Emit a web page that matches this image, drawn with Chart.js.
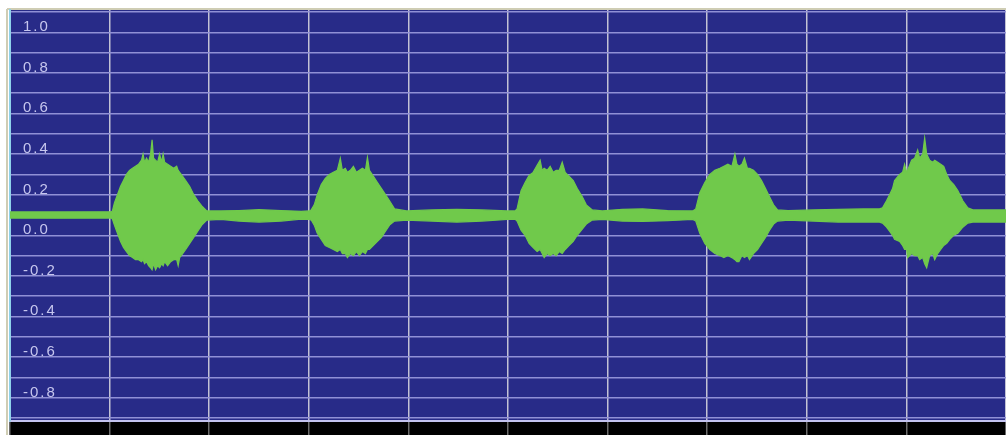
<!DOCTYPE html>
<html>
<head>
<meta charset="utf-8">
<script src="https://cdn.jsdelivr.net/npm/chart.js@4/dist/chart.umd.min.js"></script>
<style>
  html, body { margin: 0; padding: 0; background: #ffffff; }
  canvas { display: block; }
</style>
</head>
<body>
<canvas id="wave" width="1006" height="435"></canvas>
<script>
// Sample times (ms) of the waveform envelope
const timeMs = [
  0, 50, 101,
  102, 104, 107, 110, 113, 116, 119, 122, 125, 128, 131, 132.5, 134, 136, 138, 140, 141.5, 143, 145, 147, 149, 151, 152.5, 154, 157, 160, 163, 166, 167.5, 169, 172, 175, 179, 183, 187, 191, 196,
  210, 228, 248, 270, 290, 298,
  300, 303, 306, 310, 314, 318, 322, 326, 329, 331, 334, 336, 339, 342, 345, 348, 351, 354, 356, 358, 362, 366, 370, 374, 378, 383,
  395, 420, 445, 470, 495, 503,
  505, 509, 513, 517, 521, 525, 528, 530, 532, 535, 538, 541, 544, 547, 550, 553, 557, 561, 565, 570, 574, 580,
  590, 610, 630, 655, 680,
  683, 687, 692, 697, 702, 707, 711, 715, 719, 722, 724, 726, 729, 731.5, 734.5, 736.5, 740.5, 744.5, 748.5, 752.5, 756.5, 760.5, 764.5,
  775, 800, 825, 850, 866,
  869, 873, 876, 879, 881, 886, 889, 891, 893, 894, 898, 901, 904, 906, 909, 911, 913, 916, 919, 921, 924, 927, 930, 933, 936, 940, 944, 949, 954, 959,
  975, 992
];

// Positive peak amplitude at each sample time
const upperEnvelope = [
  0.015, 0.015, 0.016,
  0.02, 0.06, 0.10, 0.14, 0.17, 0.20, 0.22, 0.23, 0.24, 0.25, 0.27, 0.30, 0.26, 0.28, 0.26, 0.30, 0.37, 0.28, 0.27, 0.26, 0.30, 0.26, 0.30, 0.26, 0.25, 0.24, 0.23, 0.24, 0.22, 0.21, 0.19, 0.17, 0.14, 0.10, 0.07, 0.045, 0.02,
  0.02, 0.022, 0.026, 0.022, 0.018, 0.02,
  0.025, 0.05, 0.10, 0.15, 0.18, 0.20, 0.21, 0.22, 0.28, 0.22, 0.23, 0.21, 0.22, 0.24, 0.21, 0.22, 0.23, 0.22, 0.285, 0.22, 0.19, 0.16, 0.13, 0.10, 0.07, 0.03,
  0.02, 0.025, 0.028, 0.025, 0.02, 0.02,
  0.03, 0.12, 0.16, 0.195, 0.21, 0.245, 0.27, 0.22, 0.23, 0.22, 0.24, 0.21, 0.22, 0.22, 0.26, 0.21, 0.19, 0.17, 0.13, 0.09, 0.05, 0.025,
  0.02, 0.028, 0.03, 0.022, 0.02,
  0.03, 0.11, 0.16, 0.20, 0.22, 0.23, 0.24, 0.25, 0.24, 0.30, 0.25, 0.24, 0.25, 0.28, 0.23, 0.23, 0.22, 0.20, 0.17, 0.13, 0.09, 0.05, 0.025,
  0.022, 0.025, 0.028, 0.03, 0.03,
  0.035, 0.07, 0.10, 0.13, 0.17, 0.20, 0.21, 0.25, 0.21, 0.22, 0.27, 0.28, 0.32, 0.28, 0.30, 0.38, 0.30, 0.27, 0.26, 0.27, 0.26, 0.25, 0.24, 0.20, 0.17, 0.15, 0.12, 0.07, 0.035, 0.025,
  0.025, 0.025
];

// Negative peak amplitude at each sample time
const lowerEnvelope = [
  -0.015, -0.016, -0.015,
  -0.02, -0.05, -0.09, -0.13, -0.16, -0.18, -0.20, -0.21, -0.22, -0.22, -0.23, -0.22, -0.24, -0.23, -0.25, -0.26, -0.27, -0.24, -0.27, -0.25, -0.26, -0.24, -0.25, -0.23, -0.25, -0.23, -0.22, -0.22, -0.25, -0.21, -0.19, -0.17, -0.14, -0.11, -0.08, -0.05, -0.025,
  -0.022, -0.03, -0.035, -0.03, -0.02, -0.022,
  -0.025, -0.05, -0.09, -0.12, -0.15, -0.16, -0.17, -0.18, -0.17, -0.19, -0.19, -0.21, -0.19, -0.20, -0.18, -0.20, -0.18, -0.19, -0.17, -0.17, -0.15, -0.13, -0.11, -0.08, -0.05, -0.03,
  -0.025, -0.03, -0.035, -0.03, -0.022, -0.02,
  -0.03, -0.075, -0.10, -0.14, -0.16, -0.18, -0.17, -0.19, -0.21, -0.19, -0.20, -0.19, -0.20, -0.18, -0.19, -0.17, -0.15, -0.13, -0.10, -0.07, -0.045, -0.025,
  -0.022, -0.03, -0.032, -0.028, -0.022,
  -0.03, -0.09, -0.14, -0.17, -0.19, -0.20, -0.21, -0.20, -0.21, -0.22, -0.23, -0.23, -0.20, -0.21, -0.20, -0.22, -0.19, -0.17, -0.14, -0.11, -0.075, -0.045, -0.03,
  -0.025, -0.03, -0.035, -0.035, -0.035,
  -0.04, -0.06, -0.08, -0.10, -0.12, -0.13, -0.15, -0.17, -0.17, -0.21, -0.19, -0.20, -0.20, -0.22, -0.21, -0.24, -0.26, -0.20, -0.19, -0.22, -0.19, -0.17, -0.15, -0.14, -0.12, -0.10, -0.09, -0.06, -0.04, -0.035,
  -0.035, -0.035
];

// Amplitude labels printed along the left edge
const yTickLabels = ['1.0', '0.8', '0.6', '0.4', '0.2', '0.0', '-0.2', '-0.4', '-0.6', '-0.8'];

const WAVE_GREEN = '#70c94b';
const PLOT_BLUE = '#282b88';

// Plot background, frame edges and the dark strip under the time axis
const scopeFrame = {
  id: 'scopeFrame',
  beforeDraw(chart) {
    const { ctx, chartArea: a, width, height } = chart;
    ctx.save();
    ctx.fillStyle = PLOT_BLUE;
    ctx.fillRect(a.left, a.top, a.right - a.left, a.bottom - a.top);
    ctx.fillStyle = '#000000';
    ctx.fillRect(a.left, a.bottom, width - a.left, height - a.bottom);
    ctx.strokeStyle = '#cfcdb4';
    ctx.lineWidth = 2;
    ctx.beginPath();
    ctx.moveTo(a.left - 3, a.top - 1);
    ctx.lineTo(a.right, a.top - 1);
    ctx.moveTo(a.left - 3, a.top - 1);
    ctx.lineTo(a.left - 3, height);
    ctx.stroke();
    ctx.restore();
    ctx.letterSpacing = '2px';
  }
};

new Chart(document.getElementById('wave'), {
  type: 'line',
  data: {
    datasets: [
      {
        label: 'upper',
        data: timeMs.map((t, i) => ({ x: t, y: upperEnvelope[i] })),
        borderColor: WAVE_GREEN,
        borderWidth: 1.2,
        pointRadius: 0,
        tension: 0,
        fill: false
      },
      {
        label: 'lower',
        data: timeMs.map((t, i) => ({ x: t, y: lowerEnvelope[i] })),
        borderColor: WAVE_GREEN,
        backgroundColor: WAVE_GREEN,
        borderWidth: 1.2,
        pointRadius: 0,
        tension: 0,
        fill: '-1'
      }
    ]
  },
  options: {
    responsive: false,
    animation: false,
    events: [],
    layout: { padding: { left: 10, top: 10, right: 0, bottom: 0 } },
    plugins: {
      legend: { display: false },
      tooltip: { enabled: false }
    },
    scales: {
      x: {
        type: 'linear',
        position: 'bottom',
        bounds: 'data',
        min: 0,
        max: 992,
        afterFit(scale) {
          scale.height = 14;
          scale.paddingLeft = 0;
          scale.paddingRight = 0;
        },
        ticks: { display: false, stepSize: 100, autoSkip: false },
        grid: {
          color: '#c2c2d4',
          lineWidth: 1.5,
          drawTicks: true,
          tickLength: 14,
          tickColor: '#6c6c6c',
          tickWidth: 1.5
        },
        border: { display: true, color: '#c4c4f0', width: 2 }
      },
      y: {
        type: 'linear',
        position: 'left',
        bounds: 'data',
        min: -1.015,
        max: 1.01,
        // grid every 0.1 from -1.0 to 1.0
        afterBuildTicks(scale) {
          const ticks = [];
          for (let i = -10; i <= 10; i++) ticks.push({ value: i / 10 });
          scale.ticks = ticks;
        },
        afterFit(scale) {
          scale.width = 0;
          scale.paddingTop = 0;
          scale.paddingBottom = 0;
        },
        ticks: {
          autoSkip: false,
          mirror: true,
          padding: 13,
          labelOffset: 15,
          color: '#c6c6ee',
          font: { family: 'Liberation Sans', size: 15 },
          callback(value) {
            const text = (Math.round(value * 10) / 10).toFixed(1);
            return yTickLabels.includes(text) ? text : '';
          }
        },
        grid: {
          color: '#9090d6',
          lineWidth: 1.5,
          drawTicks: false
        },
        border: { display: true, color: '#8fd2ea', width: 2 }
      }
    }
  },
  plugins: [scopeFrame]
});
</script>
</body>
</html>
